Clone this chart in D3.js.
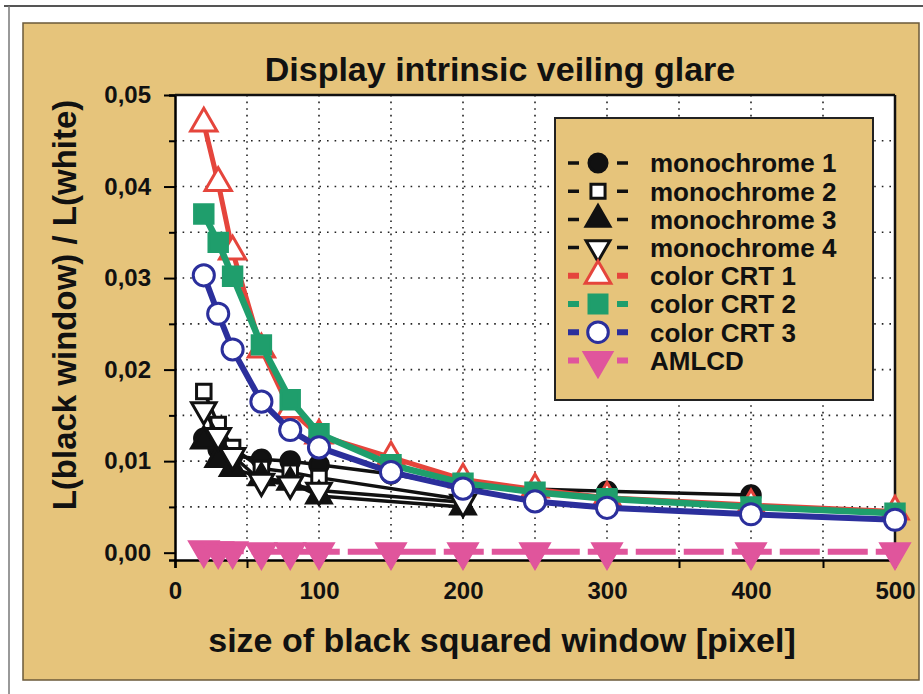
<!DOCTYPE html>
<html>
<head>
<meta charset="utf-8">
<script src="https://cdn.jsdelivr.net/npm/d3@7"></script>
<style>
  body { margin: 0; background: #fff; }
  svg text { font-family: "Liberation Sans", Arial, sans-serif; font-weight: bold; fill: #111; }
</style>
</head>
<body>
<div id="chart"></div>
<script>
// Veiling glare data
const sizesCRT = [20, 30, 40, 60, 80, 100, 150, 200, 250, 300, 400, 500];
const sizesMono = [20, 30, 40, 60, 80, 100, 200];
const sizesMono1 = [20, 30, 40, 60, 80, 100, 150, 200, 300, 400];

const mono1 = [0.0125, 0.0113, 0.0106, 0.0102, 0.0100, 0.0096, 0.0086, 0.0072, 0.0067, 0.0063];
const mono2 = [0.0176, 0.0140, 0.0115, 0.0092, 0.0088, 0.0082, 0.0058];
const mono3 = [0.0122, 0.0102, 0.0092, 0.0082, 0.0077, 0.0062, 0.0050];
const mono4 = [0.0156, 0.0128, 0.0106, 0.0078, 0.0075, 0.0068, 0.0055];
const crt1 = [0.0469, 0.0404, 0.0329, 0.0222, 0.0156, 0.0128, 0.0104, 0.0080, 0.0069, 0.0060, 0.0052, 0.0045];
const crt2 = [0.0370, 0.0339, 0.0302, 0.0227, 0.0167, 0.0130, 0.0096, 0.0076, 0.0066, 0.0059, 0.0050, 0.0043];
const crt3 = [0.0303, 0.0261, 0.0222, 0.0165, 0.0134, 0.0115, 0.0088, 0.0070, 0.0056, 0.0049, 0.0042, 0.0036];
const amlcd = [0.0003, 0.0002, 0.0002, 0.0001, 0.0001, 0.0001, 0.0001, 0.0001, 0.0001, 0.0001, 0.0001, 0.0001];

const xTicks = [0, 100, 200, 300, 400, 500];
const yTicks = [0, 0.01, 0.02, 0.03, 0.04, 0.05];

const tan = "#e6c47b";

const series = [
  { name: "monochrome 1", x: sizesMono1, y: mono1, color: "#111", sym: d3.symbolCircle, size: 270, fill: "#111", rot: 0, width: 3.5, dash: "none" },
  { name: "monochrome 2", x: sizesMono, y: mono2, color: "#111", sym: d3.symbolSquare, size: 210, fill: "#fff", rot: 0, width: 3.5, dash: "none" },
  { name: "monochrome 3", x: sizesMono, y: mono3, color: "#111", sym: d3.symbolTriangle, size: 260, fill: "#111", rot: 0, width: 3.5, dash: "none" },
  { name: "monochrome 4", x: sizesMono, y: mono4, color: "#111", sym: d3.symbolTriangle, size: 260, fill: "#fff", rot: 180, width: 3.5, dash: "none" },
  { name: "color CRT 1", x: sizesCRT, y: crt1, color: "#e5453c", sym: d3.symbolTriangle, size: 300, fill: "#fff", rot: 0, width: 5, dash: "none" },
  { name: "color CRT 2", x: sizesCRT, y: crt2, color: "#1f9e6c", sym: d3.symbolSquare, size: 340, fill: "#1f9e6c", rot: 0, width: 6.5, dash: "none" },
  { name: "color CRT 3", x: sizesCRT, y: crt3, color: "#2b2f9c", sym: d3.symbolCircle, size: 350, fill: "#fff", rot: 0, width: 6, dash: "none" },
  { name: "AMLCD", x: sizesCRT, y: amlcd, color: "#e0559c", sym: d3.symbolTriangle, size: 340, fill: "#e0559c", rot: 180, width: 6, dash: "40,8" }
];

const W = 923, H = 694;
const svg = d3.select("#chart").append("svg").attr("width", W).attr("height", H);

// page frame and tan panel
svg.append("line").attr("x1", 4).attr("x2", W).attr("y1", 6).attr("y2", 6)
  .style("stroke", "#555").style("stroke-width", 2);
svg.append("line").attr("x1", 9).attr("x2", 9).attr("y1", 6).attr("y2", H)
  .style("stroke", "#777").style("stroke-width", 1.5);
svg.append("rect").attr("x", 23).attr("y", 23).attr("width", 896).attr("height", 657)
  .style("fill", tan).style("stroke", "#6b5a3a").style("stroke-width", 1.5);

// scales
const x = d3.scaleLinear().domain([0, 500]).range([175, 895]);
const y = d3.scaleLinear().domain([-0.0008, 0.05]).range([560, 95]);

// plot area
svg.append("rect").attr("x", x(0)).attr("y", y(0.05))
  .attr("width", x(500) - x(0)).attr("height", y(-0.0008) - y(0.05))
  .style("fill", "#fff");

// dotted grid
svg.append("g").selectAll("line").data(d3.range(50, 500, 50)).enter().append("line")
  .attr("x1", (d) => x(d)).attr("x2", (d) => x(d))
  .attr("y1", y(0.05)).attr("y2", y(-0.0008))
  .style("stroke", "#222").style("stroke-width", 1.6).style("stroke-dasharray", "1.6,5");
svg.append("g").selectAll("line").data(d3.range(0.005, 0.0499, 0.005)).enter().append("line")
  .attr("x1", x(0)).attr("x2", x(500))
  .attr("y1", (d) => y(d)).attr("y2", (d) => y(d))
  .style("stroke", "#222").style("stroke-width", 1.6).style("stroke-dasharray", "1.6,6");

// axes
const xAxis = svg.append("g").attr("transform", `translate(0,${y(-0.0008)})`)
  .call(d3.axisBottom(x).tickValues(d3.range(0, 501, 50)).tickSize(8)
    .tickFormat((d) => (xTicks.includes(d) ? d : "")));
xAxis.select(".domain").style("stroke-width", 2.5);
xAxis.selectAll(".tick line").style("stroke-width", 2);
xAxis.selectAll("text").style("font-size", "24px").attr("dy", "1.15em");

const yAxis = svg.append("g").attr("transform", `translate(${x(0)},0)`)
  .call(d3.axisLeft(y).tickValues(d3.range(0, 0.0501, 0.005)).tickSize(6)
    .tickFormat((d) => {
      const hit = yTicks.find((t) => Math.abs(t - d) < 1e-9);
      return hit === undefined ? "" : d3.format(".2f")(hit).replace(".", ",");
    }));
yAxis.select(".domain").style("stroke-width", 2.5);
yAxis.selectAll(".tick line").style("stroke-width", 2)
  .attr("x2", (d) => (yTicks.some((t) => Math.abs(t - d) < 1e-9) ? -11 : -6));
yAxis.selectAll("text").style("font-size", "24px").attr("x", -24);

// right and top frame
svg.append("line").attr("x1", x(0)).attr("x2", x(500)).attr("y1", y(0.05)).attr("y2", y(0.05))
  .style("stroke", "#111").style("stroke-width", 2.5);
svg.append("line").attr("x1", x(500)).attr("x2", x(500)).attr("y1", y(0.05)).attr("y2", y(-0.0008))
  .style("stroke", "#111").style("stroke-width", 2.5);

// series lines and markers
const line = d3.line().x((d) => x(d[0])).y((d) => y(d[1]));
const plot = svg.append("g");

series.forEach((s) => {
  const pts = s.x.map((v, i) => [v, s.y[i]]);
  plot.append("path").datum(pts).attr("d", line)
    .style("fill", "none").style("stroke", s.color)
    .style("stroke-width", s.width).style("stroke-dasharray", s.dash);
  plot.selectAll(null).data(pts).enter().append("path")
    .attr("d", d3.symbol().type(s.sym).size(s.size))
    .attr("transform", (d) => `translate(${x(d[0])},${y(d[1])}) rotate(${s.rot})`)
    .style("fill", s.fill).style("stroke", s.color).style("stroke-width", 3);
});

// legend
const lg = svg.append("g");
lg.append("rect").attr("x", 555).attr("y", 118).attr("width", 318).attr("height", 282)
  .style("fill", tan).style("stroke", "#222").style("stroke-width", 2);
series.forEach((s, i) => {
  const cy = 163 + i * 28.2;
  lg.append("line").attr("x1", 568).attr("x2", 628).attr("y1", cy).attr("y2", cy)
    .style("stroke", s.color).style("stroke-width", s.width > 4 ? 6 : 3.5)
    .style("stroke-dasharray", "11,38");
  lg.append("path").attr("d", d3.symbol().type(s.sym).size(s.size * 0.95))
    .attr("transform", `translate(598,${cy}) rotate(${s.rot})`)
    .style("fill", s.fill).style("stroke", s.color).style("stroke-width", 3);
  lg.append("text").attr("x", 650).attr("y", cy).attr("dy", "0.36em")
    .style("font-size", "26px").text(s.name);
});

// titles
svg.append("text").attr("x", 500).attr("y", 81).attr("text-anchor", "middle")
  .style("font-size", "34px").text("Display intrinsic veiling glare");
svg.append("text").attr("x", 502).attr("y", 652).attr("text-anchor", "middle")
  .style("font-size", "34px").text("size of black squared window [pixel]");
svg.append("text").attr("transform", "translate(76,305) rotate(-90)")
  .attr("text-anchor", "middle")
  .style("font-size", "33px").text("L(black window) / L(white)");
</script>
</body>
</html>
